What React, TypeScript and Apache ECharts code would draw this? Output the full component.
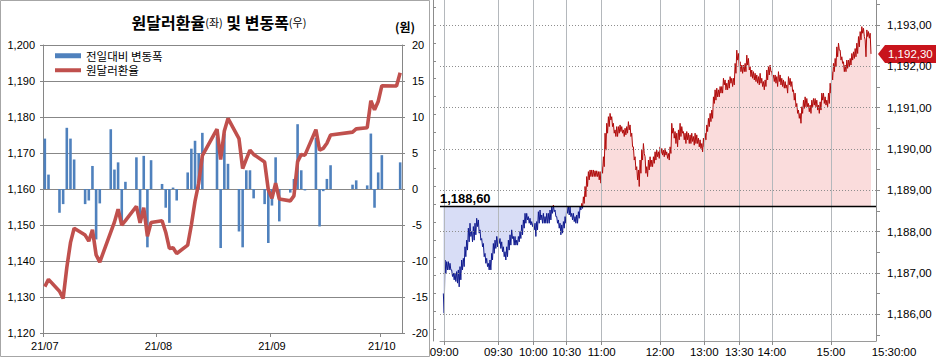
import React, { useEffect, useRef } from 'react';
import * as echarts from 'echarts';

// ---------- Left panel: daily USD/KRW close and daily change ----------
const dates = [
  '2021-07-01', '2021-07-02', '2021-07-05', '2021-07-06', '2021-07-07', '2021-07-08', '2021-07-09',
  '2021-07-12', '2021-07-13', '2021-07-14', '2021-07-15', '2021-07-16', '2021-07-19', '2021-07-20',
  '2021-07-21', '2021-07-22', '2021-07-23', '2021-07-26', '2021-07-27', '2021-07-28', '2021-07-29',
  '2021-07-30',
  '2021-08-02', '2021-08-03', '2021-08-04', '2021-08-05', '2021-08-06', '2021-08-09', '2021-08-10',
  '2021-08-11', '2021-08-12', '2021-08-13', '2021-08-17', '2021-08-18', '2021-08-19', '2021-08-20',
  '2021-08-23', '2021-08-24', '2021-08-25', '2021-08-26', '2021-08-27', '2021-08-30', '2021-08-31',
  '2021-09-01', '2021-09-02', '2021-09-03', '2021-09-06', '2021-09-07', '2021-09-08', '2021-09-09',
  '2021-09-10', '2021-09-13', '2021-09-14', '2021-09-15', '2021-09-16', '2021-09-17', '2021-09-23',
  '2021-09-24', '2021-09-27', '2021-09-28', '2021-09-29', '2021-09-30',
  '2021-10-01', '2021-10-05', '2021-10-06',
];
const krwClose = [
  1132.9, 1134.9, 1131.6, 1129.6, 1138.2, 1145.1, 1149.1, 1147.2, 1145.5, 1148.7, 1141.7, 1139.7,
  1148.0, 1150.8, 1154.4, 1150.0, 1151.2, 1155.2, 1150.6, 1154.8, 1146.9, 1150.7,
  1151.2, 1148.0, 1143.5, 1143.7, 1142.1, 1144.4, 1150.0, 1156.6, 1161.6, 1169.3, 1176.6, 1168.2,
  1176.1, 1179.6, 1174.0, 1165.7, 1168.3, 1170.8, 1169.6, 1167.5, 1159.8,
  1157.4, 1161.6, 1157.2, 1156.7, 1158.1, 1167.6, 1169.6, 1169.4, 1176.5, 1170.8, 1171.3, 1172.7,
  1175.0, 1175.8, 1176.7, 1177.0, 1184.5, 1182.0, 1184.3,
  1188.7, 1188.6, 1192.3,
];
const dailyChange = [
  7.0, 2.0, -3.3, -2.1, 8.5, 7.0, 4.1, -2.1, -1.6, 3.2, -7.0, -2.0, 8.3, 2.7, 3.7, -4.7, 1.0, 4.4,
  -4.7, 4.6, -8.1, 4.0,
  0.7, -2.6, -4.7, 0.2, -1.6, 2.3, 5.6, 6.7, 5.0, 7.8, 7.3, -8.2, 7.7, 3.5, -5.9, -8.1, 2.6, 2.6,
  -1.3, -2.1, -7.5,
  -2.3, 4.4, -4.5, -0.5, 1.4, 9.0, 2.6, -0.2, 7.1, -5.2, -0.3, 1.4, 3.3, 0.6, 1.2, 0.5, 7.7, -2.6, 2.3,
  4.7, -0.1, 3.7,
];
const monthStarts = ['2021-07-01', '2021-08-01', '2021-09-01', '2021-10-01'];
const monthLabels = ['21/07', '21/08', '21/09', '21/10'];
const axisStart = '2021-07-01';
const axisEnd = '2021-10-07';

// ---------- Right panel: intraday ticks (high / low of each sample step) ----------
const prevClose = 1188.6;
const lastPrice = 1192.3;
const tickHigh = [
  1186.50, 1187.31, 1187.27, 1187.27, 1187.23, 1187.07, 1186.99, 1186.99, 1187.03, 1187.07,
  1187.15, 1187.31, 1187.35, 1187.63, 1187.79, 1188.08, 1188.20, 1188.00, 1188.12, 1188.20,
  1188.32, 1188.28, 1188.04, 1187.83, 1187.71, 1187.47, 1187.35, 1187.23, 1187.31, 1187.47,
  1187.71, 1187.79, 1187.88, 1187.88, 1187.83, 1187.75, 1187.63, 1187.51, 1187.63, 1187.79,
  1187.92, 1188.04, 1187.88, 1187.88, 1187.79, 1187.88, 1188.00, 1188.16, 1188.28, 1188.44,
  1188.44, 1188.36, 1188.32, 1188.24, 1188.20, 1188.20, 1188.24, 1188.48, 1188.52, 1188.40,
  1188.44, 1188.36, 1188.44, 1188.44, 1188.52, 1188.60, 1188.64, 1188.52, 1188.36, 1188.28,
  1188.20, 1188.16, 1188.24, 1188.36, 1188.60, 1188.60, 1188.60, 1188.44, 1188.44, 1188.36,
  1188.40, 1188.48, 1188.60, 1188.68, 1188.84, 1189.09, 1189.33, 1189.45,
  1189.49, 1189.49, 1189.49, 1189.47, 1189.47, 1189.45, 1189.45, 1189.57, 1189.81, 1190.38,
  1190.62, 1190.78, 1190.86, 1190.78, 1190.62, 1190.46, 1190.54, 1190.54, 1190.58, 1190.54,
  1190.46, 1190.50, 1190.54, 1190.66, 1190.58, 1190.38, 1190.05, 1189.81, 1189.57, 1189.49,
  1189.73, 1189.97, 1190.13, 1189.81, 1189.57, 1189.73, 1189.81, 1189.73, 1189.81, 1189.93,
  1189.97, 1189.93, 1190.05, 1190.01, 1189.97, 1190.01, 1189.93, 1189.89, 1190.05, 1190.62,
  1190.50, 1190.42, 1190.38, 1190.46, 1190.62,
  1190.54, 1190.42, 1190.38, 1190.42, 1190.38, 1190.34, 1190.38, 1190.30, 1190.38, 1190.34,
  1190.26, 1190.22, 1190.13, 1190.26, 1190.38, 1190.58, 1190.74, 1190.86, 1190.94, 1191.26,
  1191.43, 1191.47, 1191.43, 1191.51, 1191.51, 1191.71, 1191.67, 1191.59, 1191.67, 1191.75,
  1191.71, 1191.71, 1192.07, 1192.39, 1192.31, 1192.11, 1192.03, 1192.03, 1192.07, 1192.27,
  1192.19, 1191.99, 1191.91, 1191.87, 1191.83, 1191.79, 1191.75, 1191.83, 1191.71, 1191.63,
  1191.67, 1191.91, 1191.99, 1192.03, 1191.87, 1191.79, 1191.79, 1191.75, 1191.87, 1191.79,
  1191.71, 1191.67, 1191.63, 1191.55, 1191.75, 1191.71, 1191.63, 1191.43, 1191.35, 1191.10,
  1190.94, 1190.86, 1191.02, 1191.18, 1191.26, 1191.22, 1191.10, 1191.06, 1191.18, 1191.22,
  1191.22, 1191.18, 1191.06, 1191.14, 1191.35, 1191.35, 1191.26, 1191.18, 1191.35, 1191.59,
  1191.87, 1192.07, 1192.19, 1192.47, 1192.56, 1192.39, 1192.23, 1192.11, 1192.03, 1192.15,
  1192.15, 1192.19, 1192.31, 1192.35, 1192.43, 1192.56, 1192.72, 1192.84, 1192.96, 1192.92,
  1192.64, 1192.88, 1192.84, 1192.80,
];
const tickLow = [
  1186.02, 1186.99, 1187.07, 1187.07, 1187.07, 1186.91, 1186.83, 1186.79, 1186.75, 1186.66,
  1186.83, 1187.07, 1187.15, 1187.39, 1187.55, 1187.75, 1187.88, 1187.75, 1187.79, 1187.92,
  1188.12, 1187.96, 1187.79, 1187.63, 1187.39, 1187.23, 1187.15, 1187.07, 1187.07, 1187.31,
  1187.47, 1187.59, 1187.63, 1187.71, 1187.59, 1187.51, 1187.39, 1187.31, 1187.39, 1187.55,
  1187.67, 1187.83, 1187.67, 1187.67, 1187.67, 1187.75, 1187.83, 1187.92, 1188.08, 1188.20,
  1188.28, 1188.20, 1188.16, 1188.12, 1188.04, 1187.88, 1188.04, 1188.20, 1188.28, 1188.20,
  1188.20, 1188.20, 1188.20, 1188.20, 1188.28, 1188.44, 1188.48, 1188.36, 1188.20, 1188.08,
  1187.92, 1187.96, 1188.08, 1188.20, 1188.44, 1188.40, 1188.36, 1188.28, 1188.24, 1188.20,
  1188.20, 1188.32, 1188.52, 1188.56, 1188.68, 1188.84, 1189.09, 1189.25,
  1189.33, 1189.33, 1189.33, 1189.33, 1189.33, 1189.25, 1189.17, 1189.41, 1189.57, 1189.97,
  1190.38, 1190.54, 1190.70, 1190.54, 1190.38, 1190.30, 1190.30, 1190.38, 1190.42, 1190.38,
  1190.30, 1190.34, 1190.38, 1190.46, 1190.30, 1190.05, 1189.73, 1189.49, 1189.25, 1189.09,
  1189.41, 1189.73, 1189.89, 1189.41, 1189.33, 1189.49, 1189.57, 1189.57, 1189.65, 1189.73,
  1189.81, 1189.77, 1189.89, 1189.85, 1189.81, 1189.85, 1189.77, 1189.73, 1189.89, 1190.38,
  1190.26, 1190.13, 1190.05, 1190.22, 1190.30,
  1190.38, 1190.22, 1190.13, 1190.22, 1190.13, 1190.13, 1190.18, 1190.09, 1190.13, 1190.13,
  1190.05, 1190.01, 1189.93, 1190.05, 1190.22, 1190.42, 1190.54, 1190.66, 1190.74, 1191.10,
  1191.18, 1191.26, 1191.26, 1191.35, 1191.35, 1191.55, 1191.43, 1191.43, 1191.47, 1191.59,
  1191.51, 1191.55, 1191.83, 1192.15, 1191.99, 1191.87, 1191.83, 1191.87, 1191.87, 1192.03,
  1191.91, 1191.75, 1191.71, 1191.67, 1191.63, 1191.59, 1191.55, 1191.59, 1191.51, 1191.43,
  1191.51, 1191.67, 1191.79, 1191.87, 1191.71, 1191.63, 1191.59, 1191.51, 1191.63, 1191.55,
  1191.51, 1191.47, 1191.47, 1191.35, 1191.55, 1191.51, 1191.39, 1191.18, 1191.02, 1190.86,
  1190.74, 1190.62, 1190.86, 1190.98, 1191.02, 1191.02, 1190.90, 1190.86, 1191.02, 1191.06,
  1191.02, 1190.94, 1190.86, 1190.94, 1191.18, 1191.10, 1191.06, 1191.02, 1191.10, 1191.35,
  1191.67, 1191.87, 1191.99, 1192.23, 1192.39, 1192.15, 1192.07, 1191.87, 1191.87, 1191.95,
  1191.99, 1192.03, 1192.15, 1192.19, 1192.23, 1192.31, 1192.47, 1192.64, 1192.80, 1192.72,
  1192.23, 1192.72, 1192.68, 1192.30,
];
const timeLabels = ['09:00', '09:30', '10:00', '10:30', '11:00', '12:00', '13:00', '13:30', '14:00', '15:00'];
const timeLabelTick = [1, 66, 108, 148, 190, 260, 313, 355, 394, 465];
const sessionEndLabel = '15:30:00';
const sessionEndTick = 519;
const sessionStartTick = -4;
const priceLabels = [1186, 1187, 1188, 1189, 1190, 1191, 1192, 1193];

const NUM_FONT = '"Liberation Sans", Arial, sans-serif';
const KR_FONT = '"Noto Sans CJK KR", "Noto Sans", sans-serif';

function dayIndex(d: string): number {
  return Math.round((Date.parse(d + 'T00:00:00Z') - Date.parse(axisStart + 'T00:00:00Z')) / 86400000);
}
function fmtKrw2(v: number): string {
  const s = v.toFixed(2);
  const [i, d] = s.split('.');
  return i.replace(/\B(?=(\d{3})+(?!\d))/g, ',') + ',' + d;
}

export default function App() {
  const ref = useRef<HTMLDivElement>(null);

  useEffect(() => {
    if (!ref.current) return;
    const chart = echarts.init(ref.current, undefined, { renderer: 'svg' });

    const barData = dates.map((d, i) => [dayIndex(d) + 0.5, dailyChange[i]]);
    const lineData = dates.map((d, i) => [dayIndex(d) + 0.5, krwClose[i]]);
    const monthTickVals = monthStarts.map(dayIndex);
    const monthLabelVals = monthStarts.map((d) => dayIndex(d) + 0.5);

    const priceData: number[][] = [];
    for (let k = 0; k < tickHigh.length; k++) {
      priceData.push([2 * k, tickHigh[k]]);
      priceData.push([2 * k + 1, tickLow[k]]);
    }

    const yMax = 1193.605;
    const yMin = 1185.349;
    const halfTicks: number[] = [];
    for (let v = 1185.5; v <= 1193.5; v += 0.5) halfTicks.push(v);
    const innerTicks: number[] = [];
    for (let k = -1; k <= 17; k++) innerTicks.push(1193 - k * 0.4334);

    const option: any = {
      animation: false,
      textStyle: { fontFamily: NUM_FONT },
      grid: [
        { left: 43, top: 45, width: 359, height: 288, outerBoundsMode: 'none' },
        { left: 440, top: 0, width: 436, height: 341, outerBoundsMode: 'none' },
      ],
      legend: {
        data: [
          { name: '전일대비 변동폭', icon: 'rect' },
          { name: '원달러환율', icon: 'path://M0,0L26,0L26,4L0,4Z' },
        ],
        orient: 'vertical',
        left: 50,
        top: 45,
        itemWidth: 26,
        itemHeight: 5,
        itemGap: 3,
        textStyle: { fontFamily: KR_FONT, fontSize: 11.5, color: '#000' },
      },
      xAxis: [
        {
          type: 'value',
          gridIndex: 0,
          min: 0,
          max: dayIndex(axisEnd),
          axisLine: { show: true, onZero: false, lineStyle: { color: '#868686' } },
          axisTick: { show: true, customValues: monthTickVals, length: 4, lineStyle: { color: '#868686' } },
          axisLabel: {
            customValues: monthLabelVals,
            formatter: (v: number) => {
              const i = monthLabelVals.findIndex((m) => Math.abs(m - v) < 0.01);
              return i >= 0 ? monthLabels[i] : '';
            },
            fontSize: 11,
            color: '#000',
            margin: 7,
          },
          splitLine: { show: false },
        },
        {
          type: 'value',
          gridIndex: 1,
          min: sessionStartTick,
          max: sessionEndTick,
          axisLine: { show: true, onZero: false, lineStyle: { color: '#9a9a9a' } },
          axisTick: { show: true, customValues: timeLabelTick, length: 4, lineStyle: { color: '#8a8a8a' } },
          axisLabel: {
            customValues: [...timeLabelTick, sessionEndTick],
            formatter: (v: number) => {
              if (v === sessionEndTick) return '{e|' + sessionEndLabel + '}';
              const i = timeLabelTick.indexOf(v);
              return i >= 0 ? timeLabels[i] : '';
            },
            rich: { e: { padding: [0, 0, 0, 36], fontFamily: NUM_FONT, fontSize: 11.5, color: '#000' } },
            fontFamily: NUM_FONT,
            fontSize: 11.5,
            color: '#000',
            margin: 5,
          },
          splitLine: { show: false },
        },
      ],
      yAxis: [
        {
          type: 'value',
          gridIndex: 0,
          min: 1120,
          max: 1200,
          interval: 10,
          axisLine: { show: true, onZero: false, lineStyle: { color: '#868686' } },
          axisTick: { show: true, length: 3, lineStyle: { color: '#868686' } },
          axisLabel: {
            formatter: (v: number) => v.toLocaleString('en-US'),
            fontSize: 11,
            color: '#000',
            margin: 8,
          },
          splitLine: { show: true, lineStyle: { color: '#878787', width: 1 } },
        },
        {
          type: 'value',
          gridIndex: 0,
          position: 'right',
          min: -20,
          max: 20,
          interval: 5,
          axisLine: { show: true, onZero: false, lineStyle: { color: '#868686' } },
          axisTick: { show: true, length: 3, lineStyle: { color: '#868686' } },
          axisLabel: { fontSize: 11, color: '#000', margin: 10 },
          splitLine: { show: false },
        },
        {
          type: 'value',
          gridIndex: 1,
          position: 'right',
          min: yMin,
          max: yMax,
          axisLine: { show: true, onZero: false, lineStyle: { color: '#8c8c8c' } },
          axisTick: { show: true, customValues: halfTicks, length: 4, lineStyle: { color: '#8c8c8c' } },
          axisLabel: {
            customValues: priceLabels,
            formatter: (v: number) => fmtKrw2(v),
            fontFamily: NUM_FONT,
            fontSize: 11.5,
            color: '#000',
            margin: 11,
          },
          splitLine: { show: false },
        },
        {
          type: 'value',
          gridIndex: 1,
          position: 'left',
          offset: 7,
          min: yMin,
          max: yMax,
          axisLine: { show: true, onZero: false, lineStyle: { color: '#8c8c8c' } },
          axisTick: { show: true, inside: true, customValues: innerTicks, length: 3, lineStyle: { color: '#8c8c8c' } },
          axisLabel: { show: false },
          splitLine: { show: false },
        },
      ],
      visualMap: [
        {
          type: 'piecewise',
          show: false,
          seriesIndex: 2,
          dimension: 1,
          pieces: [
            { gt: prevClose, lte: 1200, color: '#fadcdc' },
            { gte: 1180, lte: prevClose, color: '#d8ddf6' },
          ],
          outOfRange: { color: '#fadcdc' },
        },
        {
          type: 'piecewise',
          show: false,
          seriesIndex: 4,
          dimension: 1,
          pieces: [
            { gt: prevClose, lte: 1200, color: '#b00a0a' },
            { gte: 1180, lte: prevClose, color: '#0f1a8e' },
          ],
          outOfRange: { color: '#b00a0a' },
        },
      ],
      series: [
        {
          name: '전일대비 변동폭',
          type: 'bar',
          xAxisIndex: 0,
          yAxisIndex: 1,
          data: barData,
          barWidth: 2.6,
          itemStyle: { color: '#4f81bd' },
          z: 2,
        },
        {
          name: '원달러환율',
          type: 'line',
          xAxisIndex: 0,
          yAxisIndex: 0,
          data: lineData,
          symbol: 'none',
          showSymbol: false,
          lineStyle: { color: '#c0504d', width: 3.6 },
          itemStyle: { color: '#c0504d' },
          z: 3,
        },
        {
          name: 'area',
          type: 'line',
          xAxisIndex: 1,
          yAxisIndex: 2,
          data: priceData,
          symbol: 'none',
          silent: true,
          lineStyle: { width: 0 },
          areaStyle: { origin: prevClose, opacity: 1 },
          z: 1,
        },
        {
          name: 'grid',
          type: 'line',
          xAxisIndex: 1,
          yAxisIndex: 2,
          data: [[0, prevClose]],
          symbol: 'none',
          silent: true,
          lineStyle: { width: 0 },
          z: 2,
          markLine: {
            silent: true,
            symbol: ['none', 'none'],
            animation: false,
            label: { show: false },
            data: [
              ...priceLabels.map((v) => ({
                yAxis: v,
                lineStyle: { type: [1, 2], color: '#8e8e8e', width: 1 },
              })),
              ...timeLabelTick.map((t) => ({
                xAxis: t,
                lineStyle: { type: 'solid', color: '#b4b8bc', width: 1 },
              })),
            ],
          },
        },
        {
          name: 'price',
          type: 'line',
          xAxisIndex: 1,
          yAxisIndex: 2,
          data: priceData,
          symbol: 'none',
          silent: true,
          lineStyle: { width: 1 },
          z: 4,
          markLine: {
            silent: true,
            symbol: ['none', 'none'],
            animation: false,
            data: [{ yAxis: prevClose }],
            lineStyle: { type: 'solid', color: '#000', width: 1.3 },
            label: {
              show: true,
              position: 'insideStartTop',
              distance: [0, 2],
              formatter: () => fmtKrw2(prevClose),
              fontFamily: NUM_FONT,
              fontWeight: 'bold',
              fontSize: 13,
              color: '#000',
            },
          },
        },
      ],
    };

    chart.setOption(option);

    const tagY = chart.convertToPixel({ yAxisIndex: 2 } as any, lastPrice) as number;
    const axisX = chart.convertToPixel({ xAxisIndex: 1 } as any, sessionEndTick) as number;

    chart.setOption({
      graphic: [
        {
          type: 'rect',
          id: 'leftFrame',
          shape: { x: 0.5, y: 0.5, width: 429, height: 356 },
          style: { fill: 'none', stroke: '#a6a6a6', lineWidth: 1 },
          silent: true,
        },
        {
          type: 'text',
          id: 'title',
          x: 219,
          y: 22,
          style: {
            text: '{a|원달러환율}{b|(좌)}{a| 및 변동폭}{b|(우)}',
            rich: {
              a: { fontFamily: KR_FONT, fontSize: 16, fontWeight: 'bold', fill: '#000' },
              b: { fontFamily: KR_FONT, fontSize: 11, fill: '#000' },
            },
            align: 'center',
            verticalAlign: 'middle',
            textAlign: 'center',
            textVerticalAlign: 'middle',
          },
          silent: true,
        },
        {
          type: 'text',
          id: 'unit',
          x: 405,
          y: 26,
          style: {
            text: '(원)',
            fontFamily: KR_FONT,
            fontSize: 12,
            fontWeight: 'bold',
            fill: '#000',
            align: 'center',
            verticalAlign: 'middle',
            textAlign: 'center',
            textVerticalAlign: 'middle',
          },
          silent: true,
        },
        {
          type: 'group',
          id: 'priceTag',
          silent: true,
          children: [
            {
              type: 'polygon',
              shape: {
                points: [
                  [axisX + 2, tagY],
                  [axisX + 9, tagY - 9],
                  [936, tagY - 9],
                  [936, tagY + 9],
                  [axisX + 9, tagY + 9],
                ],
              },
              style: { fill: '#c8141c' },
            },
            {
              type: 'text',
              x: axisX + 12,
              y: tagY,
              style: {
                text: fmtKrw2(lastPrice),
                fontFamily: NUM_FONT,
                fontSize: 11.5,
                fill: '#fff',
                verticalAlign: 'middle',
                textVerticalAlign: 'middle',
              },
            },
          ],
        },
      ],
    });

    return () => chart.dispose();
  }, []);

  return (
    <div
      ref={ref}
      style={{ position: 'fixed', left: 0, top: 0, width: 936, height: 357, background: '#fff' }}
    />
  );
}
